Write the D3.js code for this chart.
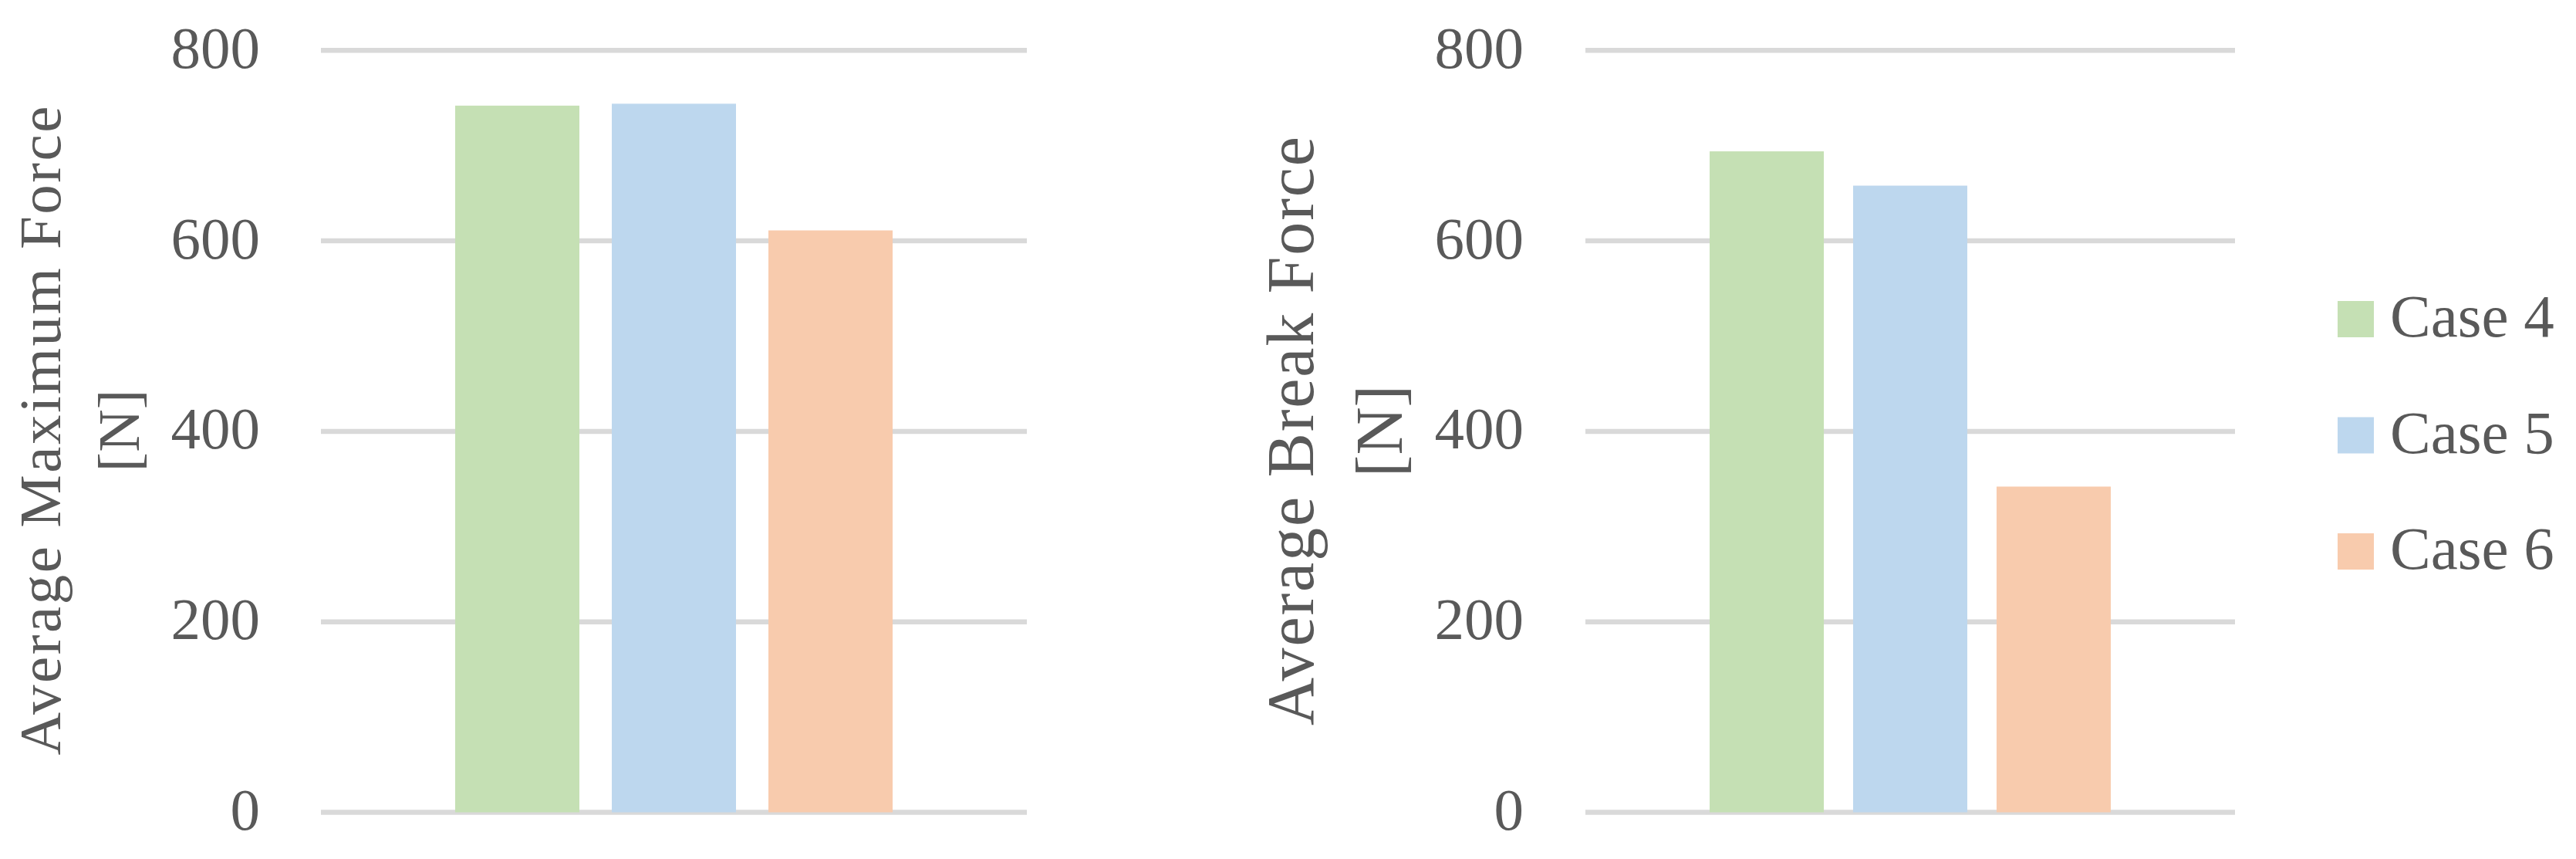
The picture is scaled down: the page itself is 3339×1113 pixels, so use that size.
<!DOCTYPE html>
<html>
<head>
<meta charset="utf-8">
<script src="https://cdn.jsdelivr.net/npm/d3@7"></script>
<style>
  html, body { margin: 0; padding: 0; background: #ffffff; }
  svg { display: block; }
  text { font-family: "Liberation Serif", "Times New Roman", serif; fill: #595959; }
</style>
</head>
<body>
<svg id="chart" width="3339" height="1113"></svg>
<script>
// ---- data ----
const categories = ["Case 4", "Case 5", "Case 6"];
const maxForce = [742, 744, 611];
const breakForce = [694, 658, 342];
const tickValues = [0, 200, 400, 600, 800];
const colors = ["#c5e0b4", "#bdd7ee", "#f8cbad"];
const leftTitle = ["Average Maximum Force", "[N]"];
const rightTitle = ["Average Break Force", "[N]"];

const svg = d3.select("#chart");
svg.append("rect").attr("width", 3339).attr("height", 1113).attr("fill", "#fff");

function panel(cfg) {
  const y = d3.scaleLinear().domain([0, 800]).range([1052.5, 65.3]);
  const x = d3.scaleBand().domain(categories).range([cfg.x0, cfg.x1])
    .paddingInner(cfg.pi).paddingOuter(cfg.po);
  const g = svg.append("g");

  // gridlines
  g.selectAll("line.grid").data(tickValues).enter().append("line")
    .attr("x1", cfg.x0).attr("x2", cfg.x1)
    .attr("y1", d => y(d)).attr("y2", d => y(d))
    .attr("stroke", "#d9d9d9").attr("stroke-width", 6.5);

  // tick labels via axis
  const axis = d3.axisLeft(y).tickValues(tickValues).tickSize(0).tickPadding(0);
  const ag = g.append("g").attr("transform", `translate(${cfg.labelX},0)`).call(axis);
  ag.select(".domain").remove();
  ag.selectAll("text")
    .attr("x", 0).attr("dy", null).attr("y", 22)
    .attr("text-anchor", "end")
    .style("font-size", "77px")
    .style("font-family", '"Liberation Serif", "Times New Roman", serif')
    .attr("fill", "#595959");

  // bars
  g.selectAll("rect.bar").data(cfg.values).enter().append("rect")
    .attr("x", (d, i) => x(categories[i]))
    .attr("width", x.bandwidth())
    .attr("y", d => y(d))
    .attr("height", d => y(0) - y(d))
    .attr("fill", (d, i) => colors[i]);

  // axis title
  const t = g.append("g").attr("transform", `translate(0,${cfg.titleY})`);
  cfg.title.forEach((line, i) => {
    const tx = t.append("text")
      .attr("transform", `translate(${cfg.titleX[i]},0) rotate(-90)`)
      .attr("text-anchor", "middle")
      .style("font-size", cfg.titleSize + "px")
      .text(line);
    if (cfg.titleLen[i]) tx.attr("textLength", cfg.titleLen[i]).attr("lengthAdjust", "spacing");
  });
}

panel({ x0: 416, x1: 1331, pi: 0.207, po: 0.857, labelX: 337, values: maxForce,
        title: leftTitle, titleX: [78, 180], titleY: 558, titleSize: 77, titleLen: [841, null] });
panel({ x0: 2055, x1: 2897, pi: 0.204, po: 0.866, labelX: 1975, values: breakForce,
        title: rightTitle, titleX: [1702, 1817], titleY: 558.5, titleSize: 86, titleLen: [763, null] });

// legend
const lg = svg.append("g");
categories.forEach((c, i) => {
  const yy = 390 + i * 150.5;
  lg.append("rect").attr("x", 3030).attr("y", yy).attr("width", 47).attr("height", 47).attr("fill", colors[i]);
  lg.append("text").attr("x", 3098).attr("y", yy + 46).style("font-size", "79px").text(c);
});
</script>
</body>
</html>
